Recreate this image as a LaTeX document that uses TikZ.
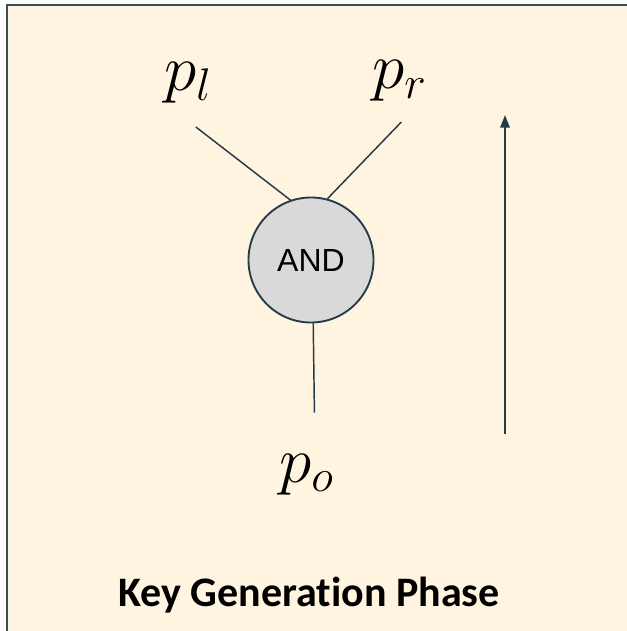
\RequirePackage{fix-cm}
\documentclass[tikz,border=0pt]{standalone}
\usepackage{fontspec}
\newfontfamily\gatefont{Liberation Sans}
\newfontfamily\titlefont[Ligatures=NoCommon]{Carlito}
\usepackage{xcolor}
\usetikzlibrary{arrows.meta}
\definecolor{phasebg}{RGB}{255,244,223}
\definecolor{slate}{RGB}{38,58,72}
\definecolor{gatefill}{RGB}{217,217,217}

\begin{document}
\begin{tikzpicture}[x=0.75pt,y=-0.75pt,wire/.style={draw=slate,line width=1.1pt},gate/.style={circle,draw=slate,line width=1.4pt,fill=gatefill,minimum size=93.75pt,inner sep=0pt,font=\gatefont\fontsize{24}{28}\selectfont},var/.style={anchor=base west,inner sep=0pt,font=\fontsize{49}{58}\selectfont}]
\useasboundingbox (0,0) rectangle (627,631);
\clip (0,0) rectangle (627,631);
\draw[draw=slate!90!white,line width=1.6pt,fill=phasebg] (7,5) rectangle (660,660);
\node[var] (pl) at (164,91) {$p_l$};
\node[var] (pr) at (372,89) {$p_r$};
\node[var] (po) at (279,482) {$p_o$};
\node[gate] (and) at (311,260) {AND};
\draw[wire] ([shift={(8,23)}]pl.south) -- (and.109);
\draw[wire] ([shift={(2,20)}]pr.south) -- (and.75);
\draw[wire] (and.-88) -- ([shift={(8,-41)}]po.north);
\coordinate (up0) at (505,434);
\coordinate (up1) at (505,115);
\draw[slate,line width=1.5pt,-{Triangle[length=9.5pt,width=7pt]}] (up0) -- (up1);
\node[font=\titlefont\bfseries\fontsize{31.5}{38}\selectfont] (title) at (309,595) {Key Generation Phase};
\end{tikzpicture}
\end{document}
